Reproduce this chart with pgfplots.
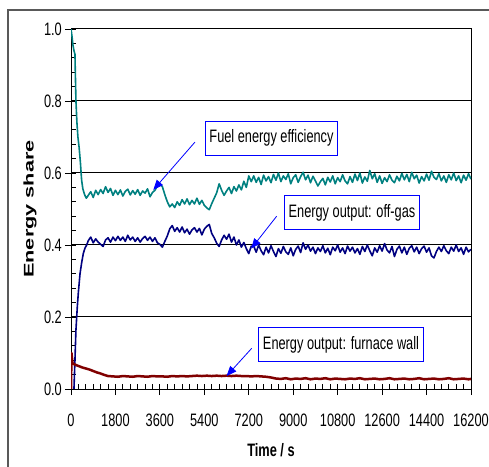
\documentclass[border=0pt]{standalone}
\usepackage{pgfplots}
\pgfplotsset{compat=1.18}
\usepackage{fontspec}
\setmainfont{Liberation Sans}[FakeStretch=0.71]
\newfontfamily\ylabfont{Liberation Sans}[FakeStretch=1.55]
\usetikzlibrary{arrows.meta}
\definecolor{tealc}{RGB}{0,128,128}
\definecolor{navyc}{RGB}{0,0,128}
\definecolor{maroonc}{RGB}{128,0,0}
\definecolor{boxblue}{RGB}{0,0,255}
\begin{document}
\begin{tikzpicture}
\useasboundingbox (-71bp,-78bp) rectangle (418bp,389bp);
\begin{axis}[
  at={(0,0)}, anchor=south west,
  scale only axis, width=400bp, height=360bp,
  xmin=0, xmax=16200, ymin=0, ymax=1,
  scaled x ticks=false, scaled y ticks=false,
  font=\fontsize{18bp}{21bp}\selectfont,
  xtick={0,1800,3600,5400,7200,9000,10800,12600,14400,16200},
  xticklabels={0,1800,3600,5400,7200,9000,10800,12600,14400,16200},
  ytick={0,0.2,0.4,0.6,0.8,1},
  yticklabels={0.0,0.2,0.4,0.6,0.8,1.0},
  minor x tick num=5, minor y tick num=4,
  tick align=inside, tick pos=left,
  major tick length=11bp, minor tick length=5bp,
  every major x tick/.append style={yshift=-6bp},
  every major y tick/.append style={xshift=-6bp},
  tick style={black, line width=0.8bp},
  ymajorgrids, major grid style={black, line width=1bp},
  axis line style={black, line width=1bp},
  xticklabel style={anchor=north, inner sep=0pt, yshift=-25bp},
  yticklabel style={anchor=east, inner sep=0pt, xshift=-9bp},
  xlabel={\bfseries Time / s},
  xlabel style={at={(axis description cs:0.5,0)}, anchor=north, inner sep=0pt, yshift=-54bp},
  ylabel={\fontsize{14bp}{16bp}\ylabfont\bfseries Energy share},
  ylabel style={at={(axis description cs:0,0.5)}, anchor=center, inner sep=0pt, yshift=41bp},
  clip=true,
]
% Fuel energy efficiency
\addplot[tealc, line width=1.6bp, line join=round] coordinates {
(0,1.0) (40,0.98) (80,0.955) (120,0.94) (160,0.93) (200,0.80) (240,0.74) (280,0.70) (330,0.67) (380,0.63) (430,0.58) (480,0.556) (550,0.540) (620,0.530)
(700,0.538) (800,0.548) (900,0.532) (1000,0.552) (1100,0.540) (1200,0.554) (1300,0.543) (1400,0.562) (1500,0.546) (1600,0.557) (1700,0.538) (1800,0.552) (1900,0.540) (2000,0.553) (2100,0.536) (2200,0.549) (2300,0.555) (2400,0.539) (2500,0.551) (2600,0.541) (2700,0.554) (2800,0.538) (2900,0.550) (3000,0.544) (3100,0.556) (3200,0.534)
(3300,0.546) (3400,0.552) (3500,0.565) (3600,0.570) (3700,0.562) (3800,0.540) (3900,0.520) (4000,0.506) (4100,0.514) (4200,0.504) (4300,0.520) (4400,0.510) (4500,0.526) (4600,0.514) (4700,0.528) (4800,0.512) (4900,0.524) (5000,0.514) (5100,0.530) (5200,0.513) (5300,0.524) (5400,0.510) (5500,0.503) (5600,0.498) (5700,0.515) (5800,0.530) (5900,0.545) (6000,0.570) (6100,0.552) (6200,0.538) (6300,0.550) (6400,0.560) (6500,0.543) (6600,0.562) (6700,0.550) (6800,0.567) (6900,0.553) (7000,0.577) (7100,0.560) (7200,0.592) (7300,0.576)
(7400,0.592) (7500,0.574) (7600,0.588) (7700,0.568) (7800,0.594) (7900,0.578) (8000,0.590) (8100,0.573) (8200,0.596) (8300,0.580) (8400,0.600) (8500,0.576) (8600,0.592) (8700,0.582) (8800,0.598) (8900,0.570) (9000,0.587) (9100,0.595) (9200,0.574) (9300,0.590) (9400,0.602) (9500,0.581) (9600,0.594) (9700,0.573) (9800,0.591) (9900,0.578) (10000,0.564) (10100,0.576) (10200,0.585) (10300,0.567) (10400,0.588) (10500,0.575) (10600,0.592) (10700,0.570) (10800,0.587) (10900,0.576) (11000,0.595) (11100,0.578) (11200,0.570) (11300,0.590) (11400,0.574) (11500,0.597) (11600,0.579) (11700,0.600) (11800,0.572) (11900,0.589) (12000,0.577) (12100,0.607) (12200,0.584) (12300,0.598) (12400,0.574) (12500,0.592) (12600,0.571) (12700,0.587) (12800,0.576) (12900,0.595) (13000,0.580) (13100,0.573) (13200,0.591) (13300,0.578) (13400,0.599) (13500,0.581) (13600,0.596) (13700,0.576) (13800,0.602) (13900,0.584) (14000,0.594) (14100,0.572) (14200,0.590) (14300,0.578) (14400,0.597) (14500,0.580) (14600,0.605) (14700,0.588) (14800,0.582) (14900,0.598) (15000,0.578) (15100,0.592) (15200,0.574) (15300,0.595) (15400,0.581) (15500,0.600) (15600,0.579) (15700,0.592) (15800,0.573) (15900,0.594) (16000,0.580) (16100,0.598) (16200,0.583)
};
% Energy output: off-gas
\addplot[navyc, line width=1.6bp, line join=round] coordinates {
(120,0.0) (160,0.08) (200,0.164) (257,0.23) (300,0.27) (365,0.32) (430,0.35) (500,0.377) (570,0.392) (635,0.40)
(700,0.412) (800,0.422) (900,0.406) (1000,0.417) (1100,0.408) (1200,0.402) (1300,0.396) (1400,0.414) (1500,0.420) (1600,0.408) (1700,0.422) (1800,0.412) (1900,0.424) (2000,0.413) (2100,0.422) (2200,0.410) (2300,0.427) (2400,0.414) (2500,0.422) (2600,0.410) (2700,0.420) (2800,0.408) (2900,0.418) (3000,0.424) (3100,0.413) (3200,0.422) (3300,0.410) (3400,0.420) (3500,0.406) (3600,0.402) (3700,0.394) (3800,0.410) (3900,0.425) (4000,0.445) (4100,0.454) (4200,0.438) (4300,0.448) (4400,0.436) (4500,0.450) (4600,0.434) (4700,0.444) (4800,0.430) (4900,0.442) (5000,0.448) (5100,0.436) (5200,0.446) (5300,0.428) (5400,0.444) (5500,0.452) (5600,0.457) (5700,0.432) (5800,0.420) (5900,0.405) (6000,0.396) (6100,0.414) (6200,0.427) (6300,0.416) (6400,0.430) (6500,0.408) (6600,0.422) (6700,0.400) (6800,0.414) (6900,0.394) (7000,0.407) (7100,0.390) (7200,0.376) (7300,0.397)
(7400,0.397) (7500,0.380) (7600,0.400) (7700,0.384) (7800,0.373) (7900,0.394) (8000,0.378) (8100,0.398) (8200,0.382) (8300,0.368) (8400,0.390) (8500,0.377) (8600,0.396) (8700,0.381) (8800,0.374) (8900,0.392) (9000,0.370) (9100,0.388) (9200,0.397) (9300,0.379) (9400,0.406) (9500,0.388) (9600,0.400) (9700,0.383) (9800,0.394) (9900,0.376) (10000,0.392) (10100,0.382) (10200,0.398) (10300,0.378) (10400,0.391) (10500,0.373) (10600,0.394) (10700,0.384) (10800,0.400) (10900,0.380) (11000,0.392) (11100,0.376) (11200,0.397) (11300,0.383) (11400,0.394) (11500,0.378) (11600,0.390) (11700,0.374) (11800,0.396) (11900,0.382) (12000,0.400) (12100,0.384) (12200,0.370) (12300,0.392) (12400,0.380) (12500,0.398) (12600,0.383) (12700,0.404) (12800,0.386) (12900,0.378) (13000,0.396) (13100,0.368) (13200,0.388) (13300,0.397) (13400,0.378) (13500,0.394) (13600,0.374) (13700,0.391) (13800,0.398) (13900,0.381) (14000,0.394) (14100,0.376) (14200,0.390) (14300,0.397) (14400,0.380) (14500,0.392) (14600,0.370) (14700,0.364) (14800,0.382) (14900,0.394) (15000,0.382) (15100,0.398) (15200,0.384) (15300,0.376) (15400,0.394) (15500,0.383) (15600,0.400) (15700,0.382) (15800,0.392) (15900,0.374) (16000,0.394) (16100,0.381) (16200,0.388)
};
% Energy output: furnace wall
\addplot[maroonc, line width=2.5bp, line join=round] coordinates {
(0,0.0) (20,0.10) (60,0.072) (150,0.068) (300,0.064) (450,0.060) (600,0.057) (750,0.054) (900,0.050) (1050,0.046) (1200,0.043) (1350,0.039) (1500,0.036)
(1700,0.035) (1900,0.034) (2100,0.036) (2300,0.035) (2500,0.034) (2700,0.036) (2900,0.035) (3100,0.034) (3300,0.036) (3500,0.035) (3700,0.035) (3900,0.034) (4100,0.036) (4300,0.035) (4500,0.036) (4700,0.035) (4900,0.036) (5100,0.037) (5300,0.036) (5500,0.037) (5700,0.036) (5900,0.037) (6100,0.036) (6300,0.037) (6500,0.036) (6700,0.037) (6900,0.036) (7100,0.036) (7300,0.035) (7500,0.036) (7700,0.035) (7900,0.034) (8100,0.032)
(8300,0.029) (8500,0.028) (8700,0.030) (8900,0.027) (9100,0.029) (9300,0.028) (9500,0.030) (9700,0.027) (9900,0.029) (10100,0.028) (10300,0.030) (10500,0.027) (10700,0.029) (10900,0.028) (11100,0.027) (11300,0.029) (11500,0.028) (11700,0.030) (11900,0.027) (12100,0.028) (12300,0.029) (12500,0.027) (12700,0.028) (12900,0.030) (13100,0.027) (13300,0.028) (13500,0.029) (13700,0.027) (13900,0.028) (14100,0.030) (14300,0.027) (14500,0.028) (14700,0.029) (14900,0.027) (15100,0.028) (15300,0.030) (15500,0.027) (15700,0.028) (15900,0.029) (16100,0.027) (16200,0.028)
};
\tikzset{annbox/.style={draw=boxblue, fill=white, line width=1bp, inner xsep=4bp, inner ysep=0pt, minimum height=34bp, font=\fontsize{18bp}{21bp}\selectfont},
         annarrow/.style={draw=boxblue, line width=0.8bp, -{Triangle[length=10bp,width=8bp]}}}
\draw[annarrow] (axis cs:5022,0.686) -- (axis cs:3333,0.553);
\draw[annarrow] (axis cs:8330,0.480) -- (axis cs:7300,0.390);
\draw[annarrow] (axis cs:7318,0.113) -- (axis cs:6300,0.036);
\node[annbox] at (axis cs:8120,0.697) {Fuel energy efficiency};
\node[annbox] at (axis cs:11380,0.490) {Energy output: off-gas};
\node[annbox] at (axis cs:10935,0.124) {Energy output: furnace wall};
\end{axis}
\draw[line width=1.5bp, black!65] (-63bp,-80bp) -- (-63bp,379bp) -- (420bp,379bp);
\end{tikzpicture}
\end{document}
